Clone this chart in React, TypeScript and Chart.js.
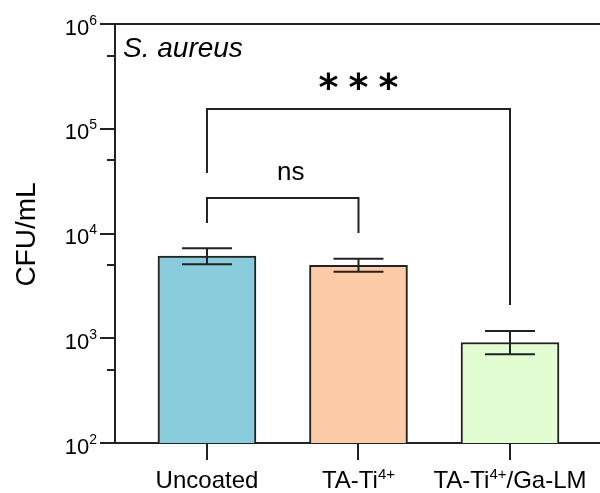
import React, { useEffect, useRef } from 'react';
import { Chart, registerables } from 'chart.js';

Chart.register(...registerables);

// ---- data ----
const categories = ['Uncoated', 'TA-Ti', 'TA-Ti'];
const categorySup = ['', '4+', '4+'];
const categorySuffix = ['', '', '/Ga-LM'];
const means = [6100, 4970, 910];
const errLow = [5090, 4310, 705];
const errHigh = [7230, 5750, 1170];
const barColors = ['#89CDDC', '#FCCBA7', '#E3FDD3'];

const yMajorTicks = [100, 1000, 10000, 100000, 1000000];
const yTickExponents = ['2', '3', '4', '5', '6'];
const yMinorTicks = [500, 5000, 50000, 500000];

const sigPairs = [[0, 1], [0, 2]];
const sigLabels = ['ns', '***'];
const sigHeights = [21800, 153000];
const sigLegEnds = [[12600, 10100], [37800, 2080]];

const titleText = 'S. aureus';
const yTitle = 'CFU/mL';

const FONT = "'Liberation Sans', Arial, sans-serif";
const INK = '#222222';

const drawPlugin = {
  id: 'customDraw',
  afterDatasetsDraw(chart: any) {
    const ctx = chart.ctx;
    const xs = chart.scales.x;
    const ys = chart.scales.y;
    ctx.save();
    ctx.strokeStyle = INK;
    ctx.lineWidth = 2;
    // error bars
    means.forEach((m, i) => {
      const cx = xs.getPixelForValue(i);
      const yl = ys.getPixelForValue(errLow[i]);
      const yh = ys.getPixelForValue(errHigh[i]);
      const hw = 25;
      ctx.beginPath();
      ctx.moveTo(cx, yl);
      ctx.lineTo(cx, yh);
      ctx.moveTo(cx - hw, yh);
      ctx.lineTo(cx + hw, yh);
      ctx.moveTo(cx - hw, yl);
      ctx.lineTo(cx + hw, yl);
      ctx.stroke();
    });
    ctx.restore();
  },
  afterDraw(chart: any) {
    const ctx = chart.ctx;
    const xs = chart.scales.x;
    const ys = chart.scales.y;
    const area = chart.chartArea;
    ctx.save();
    ctx.strokeStyle = INK;
    ctx.fillStyle = '#000';
    ctx.lineWidth = 2;

    // y ticks
    yMajorTicks.forEach((v) => {
      const y = Math.round(ys.getPixelForValue(v));
      ctx.beginPath();
      ctx.moveTo(area.left - 15, y);
      ctx.lineTo(area.left, y);
      ctx.stroke();
    });
    yMinorTicks.forEach((v) => {
      const y = Math.round(ys.getPixelForValue(v));
      ctx.beginPath();
      ctx.moveTo(area.left - 8, y);
      ctx.lineTo(area.left, y);
      ctx.stroke();
    });
    // top frame line
    const yTop = Math.round(ys.getPixelForValue(yMajorTicks[yMajorTicks.length - 1]));
    ctx.beginPath();
    ctx.moveTo(area.left, yTop);
    ctx.lineTo(area.right, yTop);
    ctx.stroke();

    // y labels
    yMajorTicks.forEach((v, i) => {
      const y = ys.getPixelForValue(v);
      const right = area.left - 18;
      ctx.font = `14px ${FONT}`;
      const supW = ctx.measureText(yTickExponents[i]).width;
      ctx.font = `22px ${FONT}`;
      const baseW = ctx.measureText('10').width;
      ctx.textAlign = 'left';
      ctx.textBaseline = 'alphabetic';
      ctx.fillText('10', right - supW - baseW, y + 10.5);
      ctx.font = `14px ${FONT}`;
      ctx.fillText(yTickExponents[i], right - supW, y + 0.5);
    });

    // x ticks & labels
    categories.forEach((c, i) => {
      const x = xs.getPixelForValue(i);
      ctx.beginPath();
      ctx.moveTo(Math.round(x), area.bottom);
      ctx.lineTo(Math.round(x), area.bottom + 17);
      ctx.stroke();
      ctx.font = `24px ${FONT}`;
      const w1 = ctx.measureText(c).width;
      const w3 = ctx.measureText(categorySuffix[i]).width;
      ctx.font = `15px ${FONT}`;
      const w2 = categorySup[i] ? ctx.measureText(categorySup[i]).width : 0;
      const total = w1 + w2 + w3;
      let sx = x - total / 2;
      const base = area.bottom + 45;
      ctx.textAlign = 'left';
      ctx.textBaseline = 'alphabetic';
      ctx.font = `24px ${FONT}`;
      ctx.fillText(c, sx, base);
      sx += w1;
      if (categorySup[i]) {
        ctx.font = `15px ${FONT}`;
        ctx.fillText(categorySup[i], sx, base - 9);
        sx += w2;
      }
      if (categorySuffix[i]) {
        ctx.font = `24px ${FONT}`;
        ctx.fillText(categorySuffix[i], sx, base);
      }
    });

    // y title
    ctx.save();
    ctx.translate(35, (area.top + area.bottom) / 2 + 1);
    ctx.rotate(-Math.PI / 2);
    ctx.font = `28px ${FONT}`;
    ctx.textAlign = 'center';
    ctx.textBaseline = 'alphabetic';
    ctx.fillText(yTitle, 0, 0);
    ctx.restore();

    // chart title
    ctx.font = `italic 28px ${FONT}`;
    ctx.textAlign = 'left';
    ctx.textBaseline = 'alphabetic';
    ctx.fillText(titleText, area.left + 8, area.top + 33);

    // significance brackets
    sigPairs.forEach((p, k) => {
      const x1 = xs.getPixelForValue(p[0]);
      const x2 = xs.getPixelForValue(p[1]);
      const yb = Math.round(ys.getPixelForValue(sigHeights[k]));
      const yl1 = ys.getPixelForValue(sigLegEnds[k][0]);
      const yl2 = ys.getPixelForValue(sigLegEnds[k][1]);
      ctx.beginPath();
      ctx.moveTo(x1, yl1);
      ctx.lineTo(x1, yb);
      ctx.lineTo(x2, yb);
      ctx.lineTo(x2, yl2);
      ctx.stroke();
      const mid = (x1 + x2) / 2;
      const label = sigLabels[k];
      if (label.startsWith('*')) {
        ctx.font = `bold 40px 'DejaVu Sans', ${FONT}`;
        const m = ctx.measureText('*');
        const inkH = m.actualBoundingBoxAscent + m.actualBoundingBoxDescent;
        const size = Math.round(40 * 19 / inkH);
        ctx.font = `bold ${size}px 'DejaVu Sans', ${FONT}`;
        const m2 = ctx.measureText('*');
        const cy = yb - 28;
        const baseY = cy - (m2.actualBoundingBoxDescent - m2.actualBoundingBoxAscent) / 2;
        ctx.textAlign = 'center';
        for (let j = 0; j < label.length; j++) {
          const ax = mid + (j - (label.length - 1) / 2) * 30;
          ctx.fillText('*', ax, baseY);
        }
      } else {
        ctx.font = `26px ${FONT}`;
        ctx.textAlign = 'center';
        ctx.textBaseline = 'alphabetic';
        ctx.fillText(label, mid + 8, yb - 18.5);
      }
    });

    ctx.restore();
  },
};

export default function App() {
  const canvasRef = useRef<HTMLCanvasElement | null>(null);

  useEffect(() => {
    const canvas = canvasRef.current;
    if (!canvas) return;
    const chart = new Chart(canvas, {
      type: 'bar',
      data: {
        datasets: [
          {
            data: means.map((v, i) => ({ x: i, y: v })),
            backgroundColor: barColors,
            borderColor: INK,
            borderWidth: 2,
            borderSkipped: 'start',
            barThickness: 98,
          } as any,
        ],
      },
      options: {
        responsive: false,
        animation: false,
        devicePixelRatio: 1,
        layout: { padding: { top: 24, right: 0, bottom: 0, left: 0 } },
        plugins: {
          legend: { display: false },
          tooltip: { enabled: false },
          title: { display: false },
        },
        scales: {
          x: {
            type: 'linear',
            offset: false,
            min: -0.607,
            max: 2.594,
            grid: { display: false },
            ticks: { display: false },
            border: { display: true, color: INK, width: 2 },
            afterFit: (s: any) => {
              s.height = 50;
            },
          },
          y: {
            type: 'logarithmic',
            min: 100,
            max: 1000000,
            grid: { display: false },
            ticks: { display: false },
            border: { display: true, color: INK, width: 2 },
            afterFit: (s: any) => {
              s.width = 115;
            },
          },
        },
      } as any,
      plugins: [drawPlugin],
    });
    return () => chart.destroy();
  }, []);

  return (
    <div style={{ position: 'absolute', left: 0, top: 0, width: 600, height: 493, background: '#fff' }}>
      <canvas ref={canvasRef} width={600} height={493} style={{ display: 'block' }} />
    </div>
  );
}
